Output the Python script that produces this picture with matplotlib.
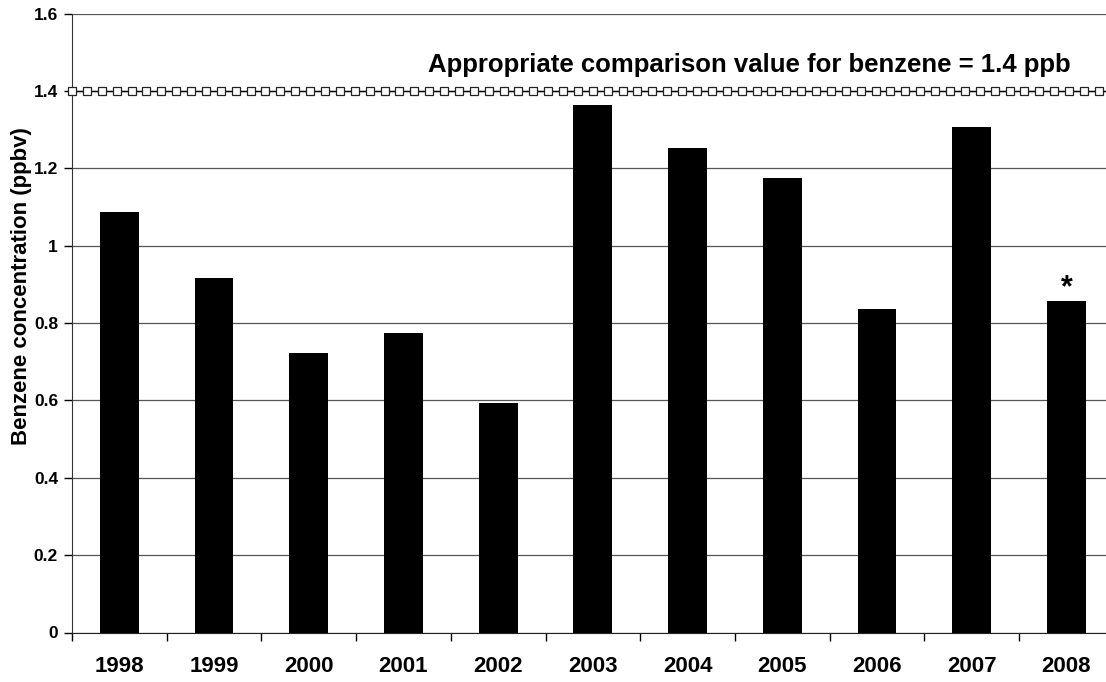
import numpy as np
import matplotlib.pyplot as plt

plt.rcParams['font.family'] = ['Liberation Sans', 'DejaVu Sans']
plt.rcParams['font.weight'] = 'bold'

years = ["1998", "1999", "2000", "2001", "2002", "2003", "2004", "2005", "2006", "2007", "2008"]
benzene = [1.086, 0.916, 0.722, 0.774, 0.594, 1.363, 1.252, 1.175, 0.836, 1.308, 0.856]
comparison_value = 1.4
y_ticks = [0, 0.2, 0.4, 0.6, 0.8, 1, 1.2, 1.4, 1.6]
y_tick_labels = ["0", "0.2", "0.4", "0.6", "0.8", "1", "1.2", "1.4", "1.6"]

fig = plt.figure(figsize=(11.06, 6.82), dpi=100)
# plot area runs past the right edge of the picture, like the original
ax = fig.add_axes([72/1106, 49.5/682, 1041.7/1106, 618.8/682])

x = np.arange(len(years))
ax.bar(x, benzene, width=0.41, color='black', zorder=3)

# reference line with hollow square markers
xl = np.linspace(-0.5, len(years) - 0.5, 71)
ax.plot(xl, [comparison_value] * len(xl), color='black', lw=1,
        marker='s', markersize=5.5, markerfacecolor='white',
        markeredgecolor='#222222', markeredgewidth=0.9, zorder=4, clip_on=False)

ax.text(3.26, 1.449, "Appropriate comparison value for benzene = 1.4 ppb",
        ha='left', va='baseline', fontsize=18.5, fontweight='bold')
ax.text(10, benzene[-1] - 0.004, "*", ha='center', va='bottom', fontsize=22, fontweight='bold')

ax.set_xlim(-0.5, len(years) - 0.5)
ax.set_ylim(0, 1.6)
ax.set_yticks(y_ticks)
ax.set_yticklabels(y_tick_labels, fontsize=12.5, fontweight='bold')
ax.yaxis.grid(True, color='#555555', lw=0.9, zorder=0)
ax.set_axisbelow(True)

ax.set_xticks(x)
ax.set_xticklabels(years, fontsize=16, fontweight='bold')
ax.set_xticks(np.arange(-0.5, len(years)), minor=True)
ax.tick_params(axis='x', which='major', length=0, pad=17)
ax.tick_params(axis='x', which='minor', length=6, width=1, direction='out')
ax.tick_params(axis='y', length=6, width=1, direction='out', pad=4)

for s in ['top', 'right']:
    ax.spines[s].set_visible(False)
ax.spines['left'].set_color('#333333')
ax.spines['bottom'].set_color('#222222')

ax.set_ylabel("Benzene concentration (ppbv)", fontsize=16, fontweight='bold')
ax.yaxis.set_label_coords(-0.0384, 0.56)

fig.savefig("out.png", dpi=100)
